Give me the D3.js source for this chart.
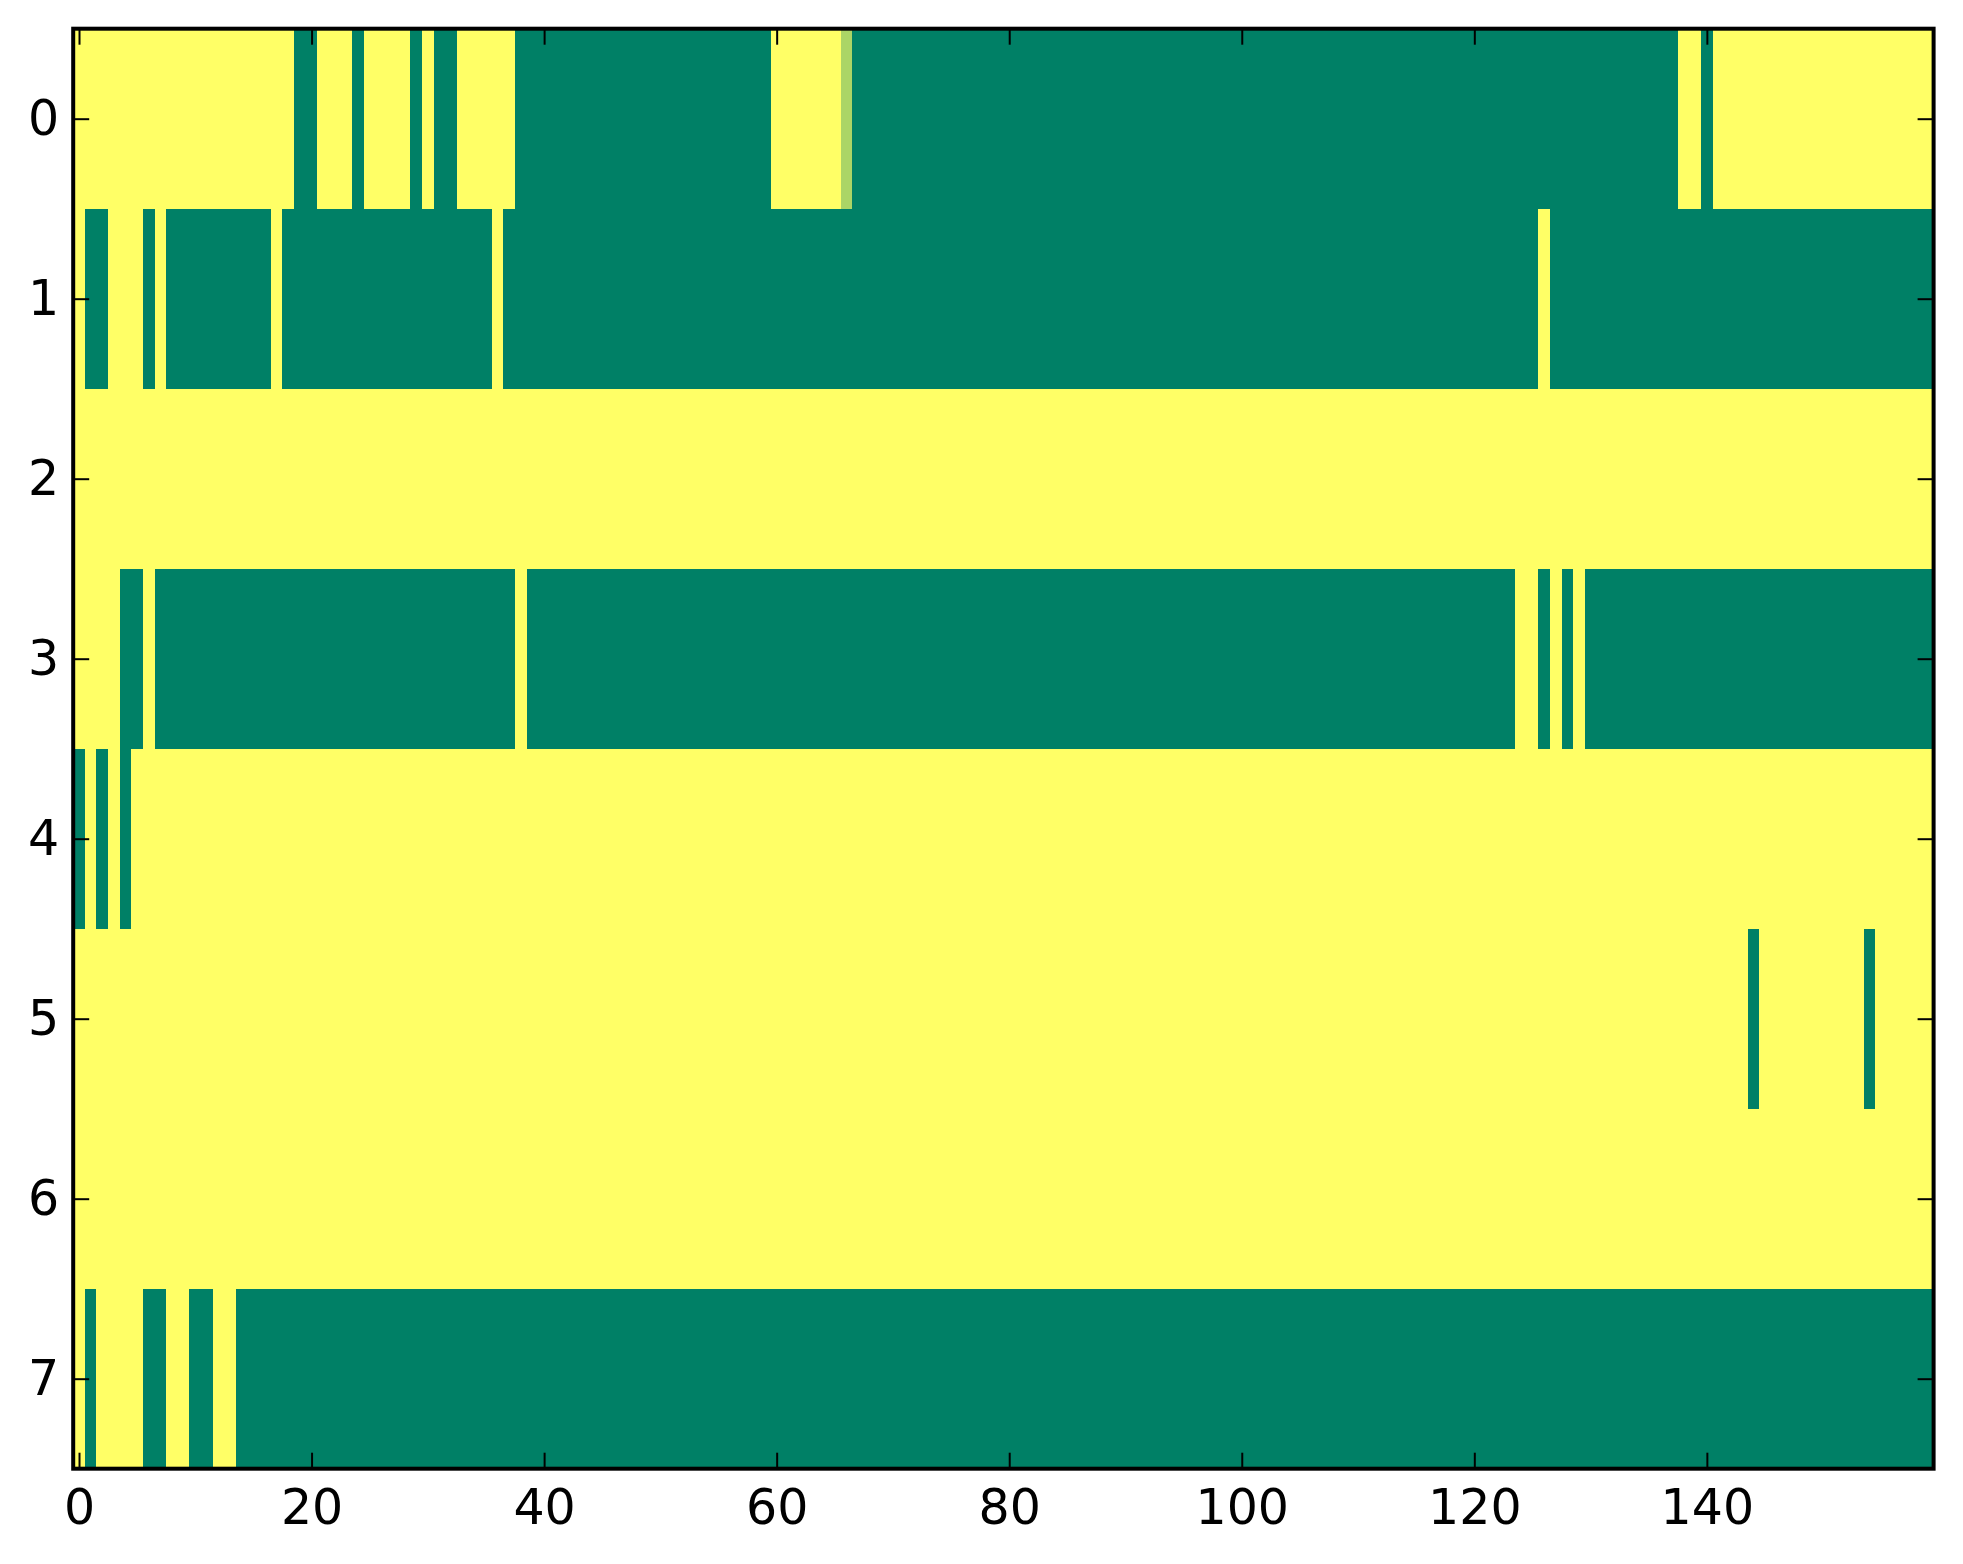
<!DOCTYPE html>
<html>
<head>
<meta charset="utf-8">
<title>imshow grid</title>
<script src="https://d3js.org/d3.v7.min.js"></script>
<style>
    body { margin: 0; background: #fff; }
    text { font-family: "DejaVu Sans", sans-serif; }
</style>
</head>
<body>
<script>
// one array per image row, 160 columns each (1 = yellow, 0 = green)
var row0 = [1,1,1,1,1,1,1,1,1,1, 1,1,1,1,1,1,1,1,1,0, 0,1,1,1,0,1,1,1,1,0, 1,0,0,1,1,1,1,1,0,0,
            0,0,0,0,0,0,0,0,0,0, 0,0,0,0,0,0,0,0,0,0, 1,1,1,1,1,1,0.67,0,0,0, 0,0,0,0,0,0,0,0,0,0,
            0,0,0,0,0,0,0,0,0,0, 0,0,0,0,0,0,0,0,0,0, 0,0,0,0,0,0,0,0,0,0, 0,0,0,0,0,0,0,0,0,0,
            0,0,0,0,0,0,0,0,0,0, 0,0,0,0,0,0,0,0,1,1, 0,1,1,1,1,1,1,1,1,1, 1,1,1,1,1,1,1,1,1,1];
var row1 = [1,0,0,1,1,1,0,1,0,0, 0,0,0,0,0,0,0,1,0,0, 0,0,0,0,0,0,0,0,0,0, 0,0,0,0,0,0,1,0,0,0,
            0,0,0,0,0,0,0,0,0,0, 0,0,0,0,0,0,0,0,0,0, 0,0,0,0,0,0,0,0,0,0, 0,0,0,0,0,0,0,0,0,0,
            0,0,0,0,0,0,0,0,0,0, 0,0,0,0,0,0,0,0,0,0, 0,0,0,0,0,0,0,0,0,0, 0,0,0,0,0,0,0,0,0,0,
            0,0,0,0,0,0,1,0,0,0, 0,0,0,0,0,0,0,0,0,0, 0,0,0,0,0,0,0,0,0,0, 0,0,0,0,0,0,0,0,0,0];
var row2 = [1,1,1,1,1,1,1,1,1,1, 1,1,1,1,1,1,1,1,1,1, 1,1,1,1,1,1,1,1,1,1, 1,1,1,1,1,1,1,1,1,1,
            1,1,1,1,1,1,1,1,1,1, 1,1,1,1,1,1,1,1,1,1, 1,1,1,1,1,1,1,1,1,1, 1,1,1,1,1,1,1,1,1,1,
            1,1,1,1,1,1,1,1,1,1, 1,1,1,1,1,1,1,1,1,1, 1,1,1,1,1,1,1,1,1,1, 1,1,1,1,1,1,1,1,1,1,
            1,1,1,1,1,1,1,1,1,1, 1,1,1,1,1,1,1,1,1,1, 1,1,1,1,1,1,1,1,1,1, 1,1,1,1,1,1,1,1,1,1];
var row3 = [1,1,1,1,0,0,1,0,0,0, 0,0,0,0,0,0,0,0,0,0, 0,0,0,0,0,0,0,0,0,0, 0,0,0,0,0,0,0,0,1,0,
            0,0,0,0,0,0,0,0,0,0, 0,0,0,0,0,0,0,0,0,0, 0,0,0,0,0,0,0,0,0,0, 0,0,0,0,0,0,0,0,0,0,
            0,0,0,0,0,0,0,0,0,0, 0,0,0,0,0,0,0,0,0,0, 0,0,0,0,0,0,0,0,0,0, 0,0,0,0,0,0,0,0,0,0,
            0,0,0,0,1,1,0,1,0,1, 0,0,0,0,0,0,0,0,0,0, 0,0,0,0,0,0,0,0,0,0, 0,0,0,0,0,0,0,0,0,0];
var row4 = [0,1,0,1,0,1,1,1,1,1, 1,1,1,1,1,1,1,1,1,1, 1,1,1,1,1,1,1,1,1,1, 1,1,1,1,1,1,1,1,1,1,
            1,1,1,1,1,1,1,1,1,1, 1,1,1,1,1,1,1,1,1,1, 1,1,1,1,1,1,1,1,1,1, 1,1,1,1,1,1,1,1,1,1,
            1,1,1,1,1,1,1,1,1,1, 1,1,1,1,1,1,1,1,1,1, 1,1,1,1,1,1,1,1,1,1, 1,1,1,1,1,1,1,1,1,1,
            1,1,1,1,1,1,1,1,1,1, 1,1,1,1,1,1,1,1,1,1, 1,1,1,1,1,1,1,1,1,1, 1,1,1,1,1,1,1,1,1,1];
var row5 = [1,1,1,1,1,1,1,1,1,1, 1,1,1,1,1,1,1,1,1,1, 1,1,1,1,1,1,1,1,1,1, 1,1,1,1,1,1,1,1,1,1,
            1,1,1,1,1,1,1,1,1,1, 1,1,1,1,1,1,1,1,1,1, 1,1,1,1,1,1,1,1,1,1, 1,1,1,1,1,1,1,1,1,1,
            1,1,1,1,1,1,1,1,1,1, 1,1,1,1,1,1,1,1,1,1, 1,1,1,1,1,1,1,1,1,1, 1,1,1,1,1,1,1,1,1,1,
            1,1,1,1,1,1,1,1,1,1, 1,1,1,1,1,1,1,1,1,1, 1,1,1,1,0,1,1,1,1,1, 1,1,1,1,0,1,1,1,1,1];
var row6 = [1,1,1,1,1,1,1,1,1,1, 1,1,1,1,1,1,1,1,1,1, 1,1,1,1,1,1,1,1,1,1, 1,1,1,1,1,1,1,1,1,1,
            1,1,1,1,1,1,1,1,1,1, 1,1,1,1,1,1,1,1,1,1, 1,1,1,1,1,1,1,1,1,1, 1,1,1,1,1,1,1,1,1,1,
            1,1,1,1,1,1,1,1,1,1, 1,1,1,1,1,1,1,1,1,1, 1,1,1,1,1,1,1,1,1,1, 1,1,1,1,1,1,1,1,1,1,
            1,1,1,1,1,1,1,1,1,1, 1,1,1,1,1,1,1,1,1,1, 1,1,1,1,1,1,1,1,1,1, 1,1,1,1,1,1,1,1,1,1];
var row7 = [1,0,1,1,1,1,0,0,1,1, 0,0,1,1,0,0,0,0,0,0, 0,0,0,0,0,0,0,0,0,0, 0,0,0,0,0,0,0,0,0,0,
            0,0,0,0,0,0,0,0,0,0, 0,0,0,0,0,0,0,0,0,0, 0,0,0,0,0,0,0,0,0,0, 0,0,0,0,0,0,0,0,0,0,
            0,0,0,0,0,0,0,0,0,0, 0,0,0,0,0,0,0,0,0,0, 0,0,0,0,0,0,0,0,0,0, 0,0,0,0,0,0,0,0,0,0,
            0,0,0,0,0,0,0,0,0,0, 0,0,0,0,0,0,0,0,0,0, 0,0,0,0,0,0,0,0,0,0, 0,0,0,0,0,0,0,0,0,0];

var rowLabels = [0, 1, 2, 3, 4, 5, 6, 7];
var xTicks = [0, 20, 40, 60, 80, 100, 120, 140];

var rows = [row0, row1, row2, row3, row4, row5, row6, row7];
var nCols = row0.length;

var width = 1963;
var height = 1564;
var plotLeft = 73.2, plotRight = 1933.6, plotTop = 28.7, plotBottom = 1468.7;

// matplotlib "summer": green -> yellow
var color = d3.scaleLinear()
    .domain([0, 1])
    .range(["#008066", "#ffff66"]);

var x = d3.scaleLinear()
    .domain([-0.5, nCols - 0.5])
    .range([plotLeft, plotRight]);

var y = d3.scaleLinear()
    .domain([-0.5, rows.length - 0.5])
    .range([plotTop, plotBottom]);

var svg = d3.select("body")
    .append("svg")
    .attr("width", width)
    .attr("height", height);

var cells = [];
rows.forEach(function(r, ri) {
    r.forEach(function(v, ci) {
        cells.push({ row: ri, col: ci, value: v });
    });
});

svg.append("g")
    .selectAll("rect")
    .data(cells)
    .enter()
    .append("rect")
    .attr("x", function(d) { return x(d.col - 0.5); })
    .attr("y", function(d) { return y(d.row - 0.5); })
    .attr("width", function(d) { return x(d.col + 0.5) - x(d.col - 0.5) + 0.4; })
    .attr("height", function(d) { return y(d.row + 0.5) - y(d.row - 0.5) + 0.4; })
    .attr("fill", function(d) { return color(d.value); })
    .attr("shape-rendering", "crispEdges");

var fontSize = 49;
var tickLen = 16;

// ticks point inward on all four sides
var gx = svg.append("g")
    .attr("transform", "translate(0," + plotBottom + ")")
    .call(d3.axisBottom(x).tickValues(xTicks).tickSizeInner(-tickLen).tickSizeOuter(0).tickPadding(21));
var gxTop = svg.append("g")
    .attr("transform", "translate(0," + plotTop + ")")
    .call(d3.axisTop(x).tickValues(xTicks).tickSizeInner(-tickLen).tickSizeOuter(0).tickFormat(""));
var gy = svg.append("g")
    .attr("transform", "translate(" + plotLeft + ",0)")
    .call(d3.axisLeft(y).tickValues(rowLabels).tickSizeInner(-tickLen).tickSizeOuter(0).tickPadding(14));
var gyRight = svg.append("g")
    .attr("transform", "translate(" + plotRight + ",0)")
    .call(d3.axisRight(y).tickValues(rowLabels).tickSizeInner(-tickLen).tickSizeOuter(0).tickFormat(""));

[gx, gxTop, gy, gyRight].forEach(function(g) {
    g.select(".domain").remove();
    g.selectAll(".tick line").attr("stroke", "#000").attr("stroke-width", 2);
    g.selectAll(".tick text")
        .attr("fill", "#000")
        .style("font-family", "'DejaVu Sans', sans-serif")
        .style("font-size", fontSize + "px");
});

// frame
svg.append("rect")
    .attr("x", plotLeft)
    .attr("y", plotTop)
    .attr("width", plotRight - plotLeft)
    .attr("height", plotBottom - plotTop)
    .attr("fill", "none")
    .attr("stroke", "#000")
    .attr("stroke-width", 4);
</script>
</body>
</html>
